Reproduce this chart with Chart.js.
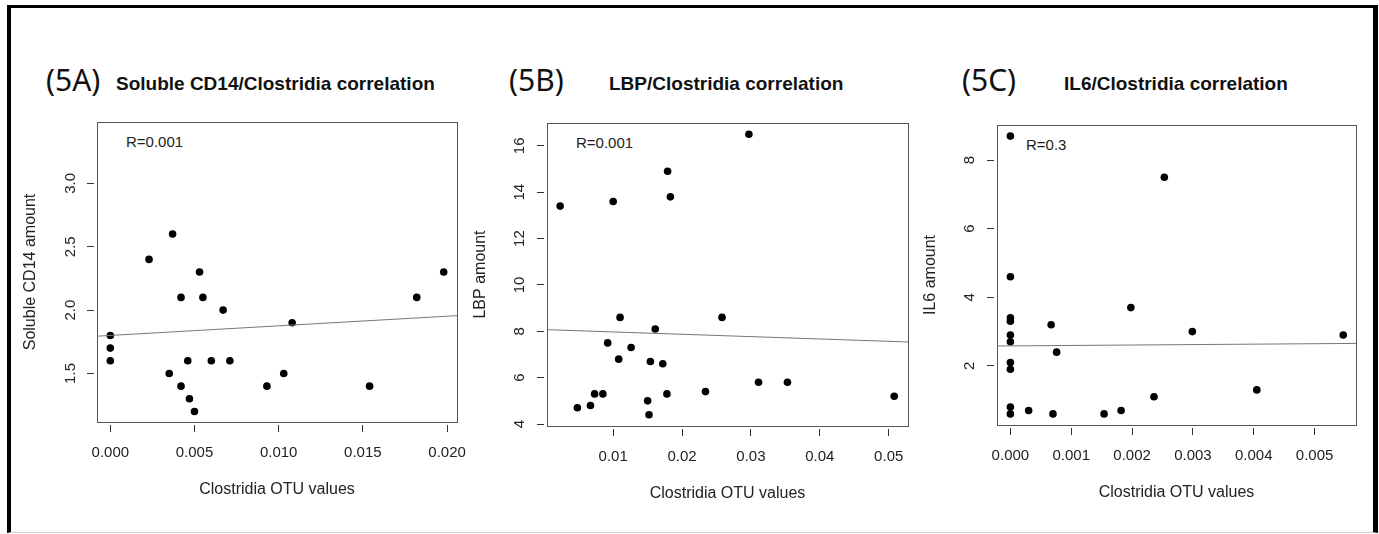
<!DOCTYPE html>
<html>
<head>
<meta charset="utf-8">
<script src="https://cdn.jsdelivr.net/npm/chart.js@4/dist/chart.umd.min.js"></script>
<style>
  body { margin: 0; background: #fff; width: 1379px; height: 534px; position: relative; overflow: hidden; }
  .frame { position: absolute; left: 7px; top: 5px; width: 1362px; height: 524px;
           border-left: 4px solid #000; border-top: 3px solid #000; border-right: 5px solid #000; border-bottom: 1px solid #ccc; }
  .panel { position: absolute; }
  .tag { position: absolute; font-family: "Noto Sans", sans-serif; font-size: 30px; line-height: 1; color: #111; white-space: nowrap; }
  .head { position: absolute; font-family: "Liberation Sans", Arial, sans-serif; font-weight: bold; font-size: 19px; line-height: 1; color: #111; white-space: nowrap; }
  .rval { position: absolute; font-family: "Liberation Sans", Arial, sans-serif; font-size: 15px; line-height: 1; color: #222; white-space: nowrap; }
</style>
</head>
<body>
<div class="frame"></div>

<div class="tag" style="left:46px; top:65px">(5A)</div>
<div class="head" style="left:116px; top:74px">Soluble CD14/Clostridia correlation</div>
<div class="tag" style="left:509px; top:65px">(5B)</div>
<div class="head" style="left:609px; top:74px">LBP/Clostridia correlation</div>
<div class="tag" style="left:962px; top:65px">(5C)</div>
<div class="head" style="left:1064px; top:74px">IL6/Clostridia correlation</div>

<div class="rval" style="left:126px; top:134px">R=0.001</div>
<div class="rval" style="left:576px; top:135px">R=0.001</div>
<div class="rval" style="left:1026px; top:137px">R=0.3</div>

<div class="panel" id="wrapA"><canvas id="chartA"></canvas></div>
<div class="panel" id="wrapB"><canvas id="chartB"></canvas></div>
<div class="panel" id="wrapC"><canvas id="chartC"></canvas></div>

<script>
// ---- 5A: soluble CD14 ----
const xA = [0, 0, 0, 0.0023, 0.0037, 0.0035, 0.0042, 0.0042, 0.0046, 0.0047, 0.0050, 0.0053, 0.0055, 0.0060, 0.0067, 0.0071, 0.0093, 0.0103, 0.0108, 0.0154, 0.0182, 0.0198];
const yA = [1.8, 1.7, 1.6, 2.4, 2.6, 1.5, 2.1, 1.4, 1.6, 1.3, 1.2, 2.3, 2.1, 1.6, 2.0, 1.6, 1.4, 1.5, 1.9, 1.4, 2.1, 2.3];
const fitXA = [-0.00079, 0.02059];
const fitYA = [1.794, 1.956];
const xRangeA = [-0.00079, 0.02059];
const yRangeA = [1.117, 3.484];
const xTicksA = [0, 0.005, 0.010, 0.015, 0.020];
const xTickLabelsA = ['0.000', '0.005', '0.010', '0.015', '0.020'];
const yTicksA = [1.5, 2.0, 2.5, 3.0];
const yTickLabelsA = ['1.5', '2.0', '2.5', '3.0'];

// ---- 5B: LBP ----
const xB = [0.0023, 0.0048, 0.0067, 0.0073, 0.0085, 0.0092, 0.0100, 0.0108, 0.0110, 0.0126, 0.0150, 0.0152, 0.0154, 0.0161, 0.0172, 0.0178, 0.0179, 0.0183, 0.0234, 0.0258, 0.0297, 0.0311, 0.0353, 0.0508];
const yB = [13.4, 4.7, 4.8, 5.3, 5.3, 7.5, 13.6, 6.8, 8.6, 7.3, 5.0, 4.4, 6.7, 8.1, 6.6, 5.3, 14.9, 13.8, 5.4, 8.6, 16.5, 5.8, 5.8, 5.2];
const fitXB = [0.00039, 0.0528];
const fitYB = [8.07, 7.54];
const xRangeB = [0.00039, 0.0528];
const yRangeB = [3.916, 16.984];
const xTicksB = [0.01, 0.02, 0.03, 0.04, 0.05];
const xTickLabelsB = ['0.01', '0.02', '0.03', '0.04', '0.05'];
const yTicksB = [4, 6, 8, 10, 12, 14, 16];
const yTickLabelsB = ['4', '6', '8', '10', '12', '14', '16'];

// ---- 5C: IL6 ----
const xC = [0, 0, 0, 0, 0, 0, 0, 0, 0, 0, 0.0003, 0.00067, 0.0007, 0.00076, 0.00154, 0.00182, 0.00198, 0.00236, 0.00253, 0.00299, 0.00405, 0.00547];
const yC = [8.7, 4.6, 3.4, 3.3, 2.9, 2.7, 2.1, 1.9, 0.8, 0.6, 0.7, 3.2, 0.6, 2.4, 0.6, 0.7, 3.7, 1.1, 7.5, 3.0, 1.3, 2.9];
const fitXC = [-0.00022, 0.00568];
const fitYC = [2.58, 2.655];
const xRangeC = [-0.00022, 0.00568];
const yRangeC = [0.276, 9.024];
const xTicksC = [0, 0.001, 0.002, 0.003, 0.004, 0.005];
const xTickLabelsC = ['0.000', '0.001', '0.002', '0.003', '0.004', '0.005'];
const yTicksC = [2, 4, 6, 8];
const yTickLabelsC = ['2', '4', '6', '8'];

const xTitle = 'Clostridia OTU values';
const FONT = '"Liberation Sans", Arial, sans-serif';
const TEXT = '#222';

// plot frame like R's box()
const boxPlugin = {
    id: 'rbox',
    beforeDatasetsDraw(chart) {
        const a = chart.chartArea;
        const ctx = chart.ctx;
        ctx.save();
        ctx.strokeStyle = '#555';
        ctx.lineWidth = 1;
        ctx.strokeRect(Math.round(a.left) + 0.5, Math.round(a.top) + 0.5,
                       Math.round(a.right - a.left), Math.round(a.bottom - a.top));
        ctx.restore();
    }
};

function makePanel(id, box, pts, fit, ranges, ticks, yTitle, yPad) {
    const yAxisW = 90, xAxisH = 80, padT = 30, padR = 30;
    const wrap = document.getElementById('wrap' + id);
    const canvas = document.getElementById('chart' + id);
    const w = box.r - box.l + yAxisW + padR;
    const h = box.b - box.t + padT + xAxisH;
    wrap.style.left = (box.l - yAxisW) + 'px';
    wrap.style.top = (box.t - padT) + 'px';
    canvas.width = w;
    canvas.height = h;

    const points = pts.x.map((v, i) => ({ x: v, y: pts.y[i] }));
    const line = fit.x.map((v, i) => ({ x: v, y: fit.y[i] }));

    return new Chart(canvas.getContext('2d'), {
        type: 'scatter',
        data: {
            datasets: [{
                data: line,
                showLine: true,
                borderColor: '#777',
                borderWidth: 1,
                pointRadius: 0,
                order: 0
            }, {
                data: points,
                backgroundColor: '#000',
                borderWidth: 0,
                pointRadius: 3.8,
                order: 1
            }]
        },
        options: {
            responsive: false,
            animation: false,
            devicePixelRatio: 1,
            layout: { padding: { top: padT, right: padR, left: 0, bottom: 0 } },
            plugins: { legend: { display: false }, tooltip: { enabled: false } },
            scales: {
                x: {
                    type: 'linear',
                    min: ranges.x[0],
                    max: ranges.x[1],
                    afterBuildTicks: s => { s.ticks = ticks.x.map(v => ({ value: v })); },
                    afterFit: s => { s.height = xAxisH; },
                    border: { display: false },
                    grid: { drawOnChartArea: false, tickLength: 10, tickColor: '#333', tickWidth: 1,
                            tickBorderDash: [0, 3, 7, 100] },
                    ticks: { autoSkip: false, maxRotation: 0, padding: 11.5, color: TEXT,
                             font: { family: FONT, size: 15 },
                             callback: (v, i) => ticks.xl[i] },
                    title: { display: true, text: xTitle, color: TEXT,
                             font: { family: FONT, size: 16 }, padding: { top: 0, bottom: 2.4 } }
                },
                y: {
                    type: 'linear',
                    min: ranges.y[0],
                    max: ranges.y[1],
                    afterBuildTicks: s => { s.ticks = ticks.y.map(v => ({ value: v })); },
                    afterFit: s => { s.width = yAxisW; },
                    border: { display: false },
                    grid: { drawOnChartArea: false, tickLength: 10, tickColor: '#333', tickWidth: 1,
                            tickBorderDash: [7, 100] },
                    ticks: { autoSkip: false, minRotation: 90, maxRotation: 90, crossAlign: 'center',
                             padding: yPad, color: TEXT, font: { family: FONT, size: 15 },
                             callback: (v, i) => ticks.yl[i] },
                    title: { display: true, text: yTitle, color: TEXT,
                             font: { family: FONT, size: 16 }, padding: { top: 13.5, bottom: 0 } }
                }
            }
        },
        plugins: [boxPlugin]
    });
}

makePanel('A', { l: 97, r: 457, t: 122, b: 422 },
    { x: xA, y: yA }, { x: fitXA, y: fitYA }, { x: xRangeA, y: yRangeA },
    { x: xTicksA, xl: xTickLabelsA, y: yTicksA, yl: yTickLabelsA }, 'Soluble CD14 amount', 5.8);

makePanel('B', { l: 547, r: 908, t: 123, b: 426 },
    { x: xB, y: yB }, { x: fitXB, y: fitYB }, { x: xRangeB, y: yRangeB },
    { x: xTicksB, xl: xTickLabelsB, y: yTicksB, yl: yTickLabelsB }, 'LBP amount', 8.3);

makePanel('C', { l: 997, r: 1356, t: 125, b: 425 },
    { x: xC, y: yC }, { x: fitXC, y: fitYC }, { x: xRangeC, y: yRangeC },
    { x: xTicksC, xl: xTickLabelsC, y: yTicksC, yl: yTickLabelsC }, 'IL6 amount', 13.1);
</script>
</body>
</html>
